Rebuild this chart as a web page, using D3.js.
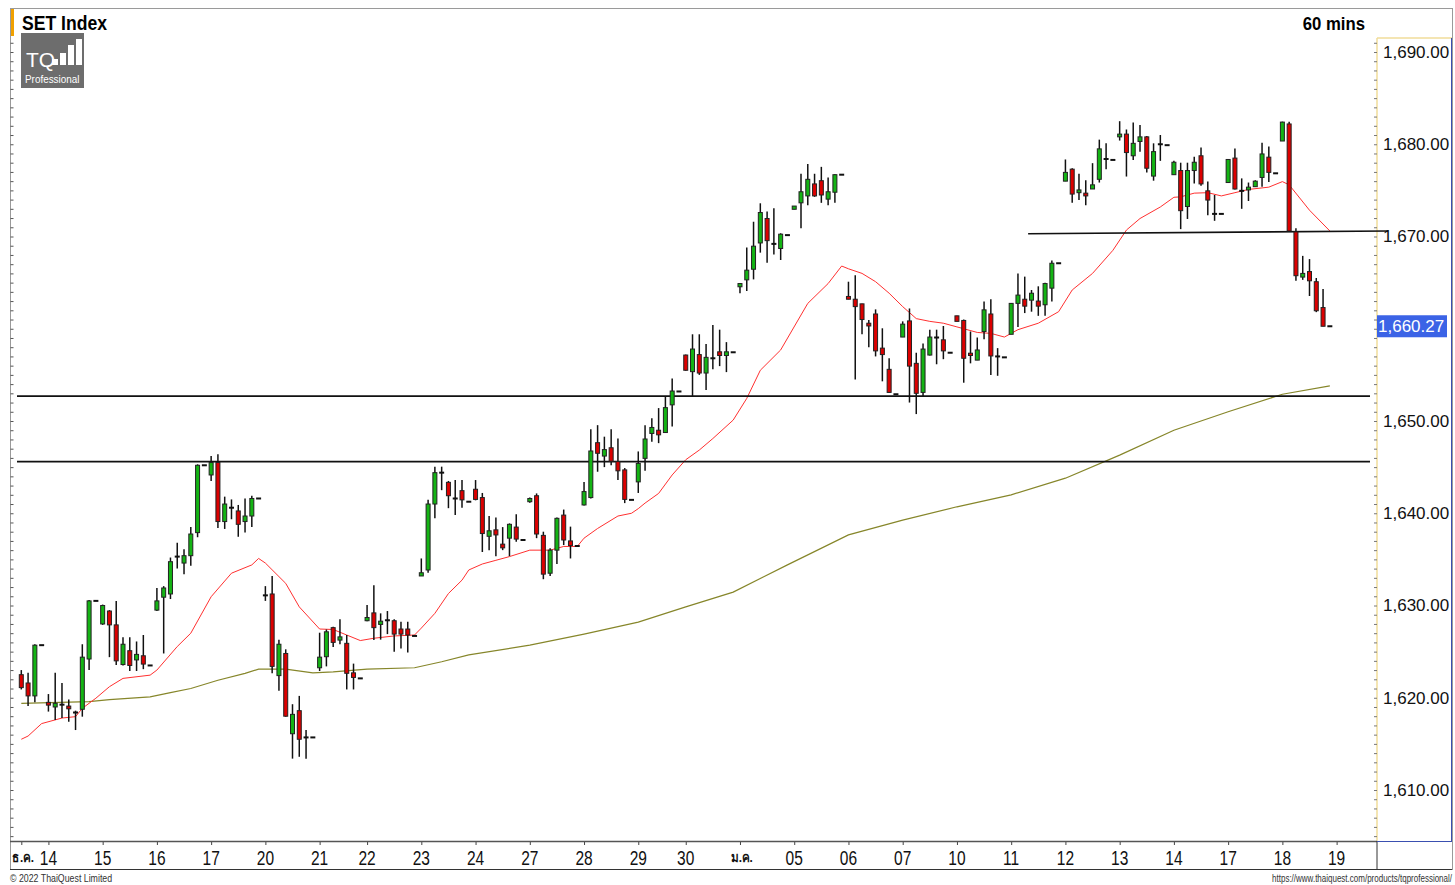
<!DOCTYPE html>
<html>
<head>
<meta charset="utf-8">
<style>
  body { margin: 0; background: #fff; }
  svg { display: block; }
  .chart { width: 1455px; height: 885px; }
</style>
</head>
<body>
<div class="chart"></div>
<script src="https://d3js.org/d3.v7.min.js"></script>
<script>
  // ---- 60 min bars, SET Index 13 Dec 2021 - 18 Jan 2022 (last bar of each day is the closing tick)
  const opens = [
    1622.5,1621.6,1620.2,1625.7,
    1619.5,1619.0,1619.25,1619.1,1618.4,1618.75,1624.2,1630.5,
    1628.0,1629.4,1627.9,1623.6,1625.1,1624.1,1624.55,1623.5,
    1629.5,1630.9,1631.25,1635.3,1634.6,1635.4,1637.9,1645.2,
    1644.15,1645.5,1639.1,1640.6,1640.25,1639.1,1639.7,1641.6,
    1631.1,1631.25,1622.4,1624.8,1616.1,1618.6,1615.7,1615.7,
    1623.25,1624.45,1627.6,1626.25,1625.9,1622.7,1622.1,
    1628.35,1629.2,1627.95,1628.4,1628.35,1627.45,1627.45,1626.7,
    1633.2,1633.85,1641.0,1644.4,1643.35,1641.6,1642.45,1641.25,
    1642.6,1641.7,1637.5,1638.2,1636.65,1637.3,1638.5,1637.1,
    1641.25,1641.9,1637.6,1633.5,1636.0,1639.8,1637.0,1636.45,
    1640.9,1641.7,1647.65,1646.2,1647.1,1645.6,1644.7,1641.45,
    1643.4,1645.95,1648.65,1649.0,1648.75,1651.75,1653.2,
    1657.15,1655.35,1657.2,1655.2,1656.8,1657.5,1657.1,1657.45,
    1664.55,1665.3,1666.45,1669.3,1671.95,1669.2,1668.7,1670.15,
    1672.95,1673.65,1674.4,1675.7,1676.05,1674.05,1674.8,1676.7,
    1663.5,1663.2,1662.7,1660.6,1661.6,1657.9,1655.6,1652.9,
    1659.1,1660.85,1656.25,1653.1,1657.15,1659.05,1658.8,1657.4,
    1661.4,1660.9,1657.35,1656.6,1659.7,1661.6,1657.0,1656.9,
    1659.4,1662.75,1663.2,1663.1,1663.0,1662.6,1664.4,1667.1,
    1676.0,1677.3,1674.75,1674.7,1675.15,1676.2,1678.4,1678.3,
    1680.8,1681.1,1678.75,1680.3,1680.8,1676.55,1680.0,1679.9,
    1676.7,1677.15,1673.25,1677.15,1678.75,1674.95,1672.45,1672.45,
    1675.85,1678.5,1674.95,1675.05,1675.4,1676.4,1678.6,1676.85,
    1680.35,1682.2,1670.5,1665.6,1666.2,1665.1,1662.3,1660.27
  ];
  const highs = [
    1623.0,1622.7,1625.8,1625.7,
    1620.4,1622.7,1621.6,1619.8,1618.6,1625.8,1630.6,1630.5,
    1630.1,1629.5,1630.5,1626.55,1626.55,1626.1,1626.8,1623.5,
    1631.9,1632.1,1635.2,1636.8,1636.1,1638.5,1645.3,1645.2,
    1646.2,1646.4,1641.8,1641.5,1640.9,1641.6,1641.9,1641.6,
    1632.1,1633.2,1626.3,1625.25,1619.3,1620.2,1616.5,1615.7,
    1627.05,1627.4,1627.7,1628.5,1626.8,1623.7,1622.1,
    1630.05,1632.2,1629.15,1629.4,1628.5,1628.25,1628.25,1626.7,
    1635.1,1641.45,1645.05,1645.05,1643.5,1643.6,1643.6,1641.25,
    1643.6,1642.2,1639.7,1639.55,1638.5,1638.9,1639.9,1637.1,
    1641.7,1642.15,1638.0,1636.2,1639.55,1640.4,1638.55,1636.45,
    1643.4,1649.1,1649.55,1648.3,1649.1,1648.1,1644.9,1641.45,
    1646.7,1649.55,1650.3,1651.4,1652.65,1654.6,1653.2,
    1657.2,1659.4,1659.4,1658.35,1660.4,1659.9,1658.55,1657.45,
    1664.95,1668.8,1671.6,1673.6,1672.7,1673.05,1670.35,1670.15,
    1673.3,1676.8,1677.85,1676.8,1677.55,1676.4,1676.75,1676.7,
    1665.1,1665.8,1662.7,1660.95,1662.1,1660.05,1656.8,1652.9,
    1660.8,1662.2,1657.4,1658.4,1659.9,1659.9,1660.3,1657.4,
    1661.4,1661.0,1659.7,1659.05,1662.95,1663.2,1657.9,1656.9,
    1662.8,1666.0,1665.65,1664.2,1664.6,1665.0,1667.4,1667.1,
    1678.35,1677.4,1676.8,1676.1,1677.95,1680.5,1680.1,1678.3,
    1682.5,1681.6,1682.35,1682.1,1680.9,1680.1,1681.0,1679.9,
    1678.2,1678.0,1678.0,1678.65,1679.65,1675.95,1674.5,1672.45,
    1678.4,1679.55,1676.3,1675.85,1676.1,1680.15,1679.75,1676.85,
    1682.45,1682.45,1670.9,1667.9,1667.55,1665.5,1664.3,1660.27
  ];
  const lows = [
    1620.9,1619.1,1619.5,1625.7,
    1618.5,1617.6,1617.8,1617.4,1616.5,1617.95,1623.0,1630.5,
    1627.9,1624.4,1623.55,1623.5,1622.9,1622.9,1623.1,1623.5,
    1629.4,1624.8,1630.7,1634.0,1633.4,1634.3,1637.4,1645.2,
    1643.5,1638.4,1638.3,1639.35,1637.45,1637.9,1638.5,1641.6,
    1630.5,1622.65,1620.75,1617.95,1613.4,1613.6,1613.4,1615.7,
    1622.9,1623.4,1625.5,1625.8,1620.9,1620.9,1622.1,
    1628.3,1626.25,1626.3,1626.9,1625.0,1625.35,1624.9,1626.7,
    1633.2,1633.55,1639.45,1642.5,1640.55,1639.8,1640.6,1641.25,
    1641.4,1635.8,1636.0,1635.35,1636.0,1635.35,1636.9,1637.1,
    1641.15,1637.3,1632.85,1633.2,1634.5,1636.55,1635.1,1636.45,
    1640.85,1641.6,1644.5,1645.0,1645.2,1643.6,1641.1,1641.45,
    1642.2,1644.6,1647.75,1647.6,1648.7,1649.4,1653.2,
    1655.45,1652.7,1655.0,1653.35,1655.6,1655.95,1655.3,1657.45,
    1663.85,1664.1,1665.35,1668.25,1667.15,1668.05,1667.45,1670.15,
    1672.95,1670.9,1673.4,1674.3,1673.65,1673.4,1673.65,1676.7,
    1663.2,1654.5,1659.4,1658.0,1657.0,1654.3,1653.05,1652.9,
    1659.1,1652.0,1650.75,1652.7,1657.1,1656.15,1656.7,1657.4,
    1660.8,1654.15,1656.25,1656.6,1658.85,1655.0,1654.9,1656.9,
    1659.4,1660.2,1661.7,1661.85,1661.4,1661.4,1662.95,1667.1,
    1676.0,1673.65,1673.95,1673.4,1675.15,1675.85,1677.3,1678.3,
    1680.4,1676.5,1678.3,1679.2,1676.95,1676.05,1678.2,1679.9,
    1676.7,1670.8,1671.9,1675.75,1675.5,1672.3,1671.7,1672.45,
    1675.8,1675.1,1673.0,1673.85,1675.4,1675.4,1675.9,1676.85,
    1680.35,1670.6,1665.2,1665.3,1663.55,1661.8,1660.27,1660.27
  ];
  const closes = [
    1621.1,1620.2,1625.7,1625.7,
    1619.2,1619.4,1619.25,1618.8,1618.4,1624.4,1630.5,1630.5,
    1630.0,1627.9,1624.0,1625.8,1623.5,1624.7,1623.65,1623.5,
    1630.5,1631.9,1634.75,1635.3,1635.4,1637.75,1645.2,1645.2,
    1645.5,1639.1,1641.0,1640.6,1638.8,1639.7,1641.6,1641.6,
    1631.1,1623.4,1625.8,1618.0,1618.2,1615.5,1615.7,1615.7,
    1624.4,1627.15,1626.0,1626.6,1622.65,1622.2,1622.1,
    1628.7,1627.6,1628.3,1628.4,1626.9,1626.9,1626.8,1626.7,
    1633.55,1641.0,1644.4,1644.4,1641.9,1641.6,1641.45,1641.25,
    1641.5,1637.8,1638.1,1637.65,1636.25,1638.8,1637.2,1637.1,
    1641.6,1637.75,1633.4,1636.0,1639.45,1637.1,1636.5,1636.45,
    1642.35,1646.75,1646.5,1646.9,1645.65,1644.6,1641.5,1641.45,
    1645.4,1648.05,1649.3,1648.5,1651.45,1653.25,1653.2,
    1655.5,1657.8,1655.2,1656.9,1656.8,1657.1,1657.5,1657.45,
    1664.9,1666.35,1668.95,1672.6,1669.55,1669.2,1670.25,1670.15,
    1673.3,1674.85,1676.2,1674.4,1674.5,1674.85,1676.7,1676.7,
    1663.2,1662.4,1661.0,1660.3,1657.6,1657.2,1653.1,1652.9,
    1660.5,1655.95,1653.0,1657.8,1659.1,1659.05,1657.6,1657.4,
    1660.8,1656.8,1657.1,1657.7,1662.05,1657.05,1657.0,1656.9,
    1662.75,1663.65,1662.45,1663.85,1662.45,1664.9,1667.1,1667.1,
    1676.95,1674.6,1675.05,1674.4,1675.6,1679.5,1678.4,1678.3,
    1681.1,1679.1,1680.1,1680.8,1677.4,1679.2,1680.0,1679.9,
    1678.05,1672.8,1677.15,1678.05,1675.7,1673.95,1672.45,1672.45,
    1678.35,1675.15,1674.95,1675.35,1676.0,1678.95,1676.95,1676.85,
    1682.4,1670.6,1665.75,1666.0,1665.2,1661.95,1660.27,1660.27
  ];

  // x-axis: bar index where each day starts, and its label
  const dayStart = [0,4,12,20,28,36,44,51,59,67,75,83,91,98,106,114,122,130,138,146,154,162,170,178,186,194];
  const dayLabel = ['ธ.ค.','14','15','16','17','20','21','22','23','24','27','28','29','30',
                    'ม.ค.','05','06','07','10','11','12','13','14','17','18','19'];

  // short moving average (red): bar index / value
  const maFastIdx = [0,1,3,6,8,9,11,13,15,19,20,23,25,28,31,34,35,36,39,41,44,46,48,50,52,55,58,59,61,63,65,66,68,70,72,75,78,80,82,83,85,88,90,91,92,94,96,98,100,102,105,107,109,112,116,119,121,122,124,126,128,130,132,134,136,138,141,143,145,147,150,153,155,158,161,163,165,168,170,171,173,175,177,179,181,184,186,187,190,193];
  const maFastVal = [1615.5,1615.85,1617.2,1617.8,1617.95,1618.85,1619.95,1621.2,1622.1,1622.45,1623.0,1625.55,1627.0,1630.95,1633.5,1634.4,1635.1,1634.6,1632.4,1629.85,1627.45,1627.4,1626.8,1626.2,1626.45,1626.7,1626.8,1627.55,1629.15,1631.3,1632.75,1633.85,1634.5,1634.9,1635.3,1636.0,1636.0,1636.4,1636.4,1637.3,1638.35,1639.7,1640.0,1640.5,1641.1,1642.15,1644.15,1645.8,1646.85,1648.1,1650.1,1652.45,1655.5,1657.7,1662.75,1664.9,1666.8,1666.5,1666.0,1665.1,1663.85,1662.4,1661.1,1660.8,1660.6,1660.2,1659.6,1659.5,1659.1,1659.9,1660.6,1661.85,1664.2,1666.0,1668.5,1670.7,1671.95,1673.2,1674.25,1674.3,1674.7,1674.75,1674.4,1674.75,1675.1,1675.35,1675.95,1675.6,1672.85,1670.6];

  // long moving average (olive)
  const maSlowIdx = [0,10,13,19,22,25,29,33,35,39,43,46,51,58,62,66,75,83,91,98,105,113,122,130,138,146,154,162,170,178,186,193];
  const maSlowVal = [1619.4,1619.57,1619.8,1620.1,1620.55,1621.0,1621.9,1622.65,1623.1,1623.1,1622.7,1622.8,1623.1,1623.25,1623.9,1624.65,1625.7,1626.9,1628.2,1629.85,1631.45,1634.4,1637.65,1639.25,1640.7,1642.0,1643.8,1646.3,1649.0,1651.0,1652.9,1653.8];

  // drawn levels
  const levels = [1652.7, 1645.6];
  const trend = { from: [148.5, 1670.3], to: [201.6, 1670.6] };
  const priceTicks = [1610,1620,1630,1640,1650,1660,1670,1680,1690];
  const lastPrice = 1660.27;

  const W = 1455, H = 885;
  const green = '#14b414', red = '#dc0000';
  const narrow = 'Liberation Sans Narrow, Arial Narrow, Liberation Sans, Arial, sans-serif';
  const sans = 'Liberation Sans, Arial, sans-serif';

  const svg = d3.select('.chart').append('svg').attr('width', W).attr('height', H);

  const x = d3.scaleLinear().domain([0, 193]).range([21.3, 21.3 + 6.78 * 193]);
  const y = d3.scaleLinear().domain([1610, 1690]).range([790, 52]);
  const plotTop = 38, plotBottom = 841, plotLeft = 10, plotRight = 1377;

  // condensed text helper (narrow face is not always installed)
  function condensed(sel, px, py, str, size, sx, anchor, weight) {
    return sel.append('text')
      .attr('transform', `translate(${px},${py}) scale(${sx},1)`)
      .attr('text-anchor', anchor || 'start')
      .attr('font-family', sans).attr('font-size', size)
      .attr('font-weight', weight || 'normal').attr('fill', '#111')
      .text(str);
  }

  // outer frame
  svg.append('rect').attr('x', 10.5).attr('y', 8.5).attr('width', 1442).attr('height', 861)
     .attr('fill', 'none').attr('stroke', '#9a9a9a');
  svg.append('rect').attr('x', 11).attr('y', 9).attr('width', 3).attr('height', 27).attr('fill', '#f0a000');

  // left axis with fine ticks (one per point)
  const yFull = y.copy().domain([y.invert(plotTop), y.invert(plotBottom)]).range([plotTop, plotBottom]);
  const leftAxis = svg.append('g').attr('transform', `translate(${plotLeft + 0.5},0)`)
    .call(d3.axisRight(yFull).tickValues(d3.range(1605, 1692, 1)).tickSize(3).tickFormat(''));
  leftAxis.select('.domain').remove();
  leftAxis.selectAll('line').attr('stroke', '#555');

  // price axis panel
  const pa = svg.append('g');
  pa.append('line').attr('x1', plotRight).attr('x2', plotRight).attr('y1', plotTop).attr('y2', plotBottom)
    .attr('stroke', '#f0dc9a').attr('stroke-width', 1.5);
  pa.append('line').attr('x1', plotRight).attr('x2', 1452).attr('y1', plotTop).attr('y2', plotTop)
    .attr('stroke', '#f0dc9a').attr('stroke-width', 1.5);
  pa.append('line').attr('x1', 1451.5).attr('x2', 1451.5).attr('y1', plotTop).attr('y2', plotBottom)
    .attr('stroke', '#3a4fb0').attr('stroke-width', 1);
  const minor = svg.append('g').attr('transform', `translate(${plotRight},0)`)
    .call(d3.axisLeft(yFull).tickValues(d3.range(1605, 1692, 1)).tickSize(3).tickFormat(''));
  minor.select('.domain').remove();
  minor.selectAll('line').attr('stroke', '#777');

  // price labels; the one hidden under the last-price box is left out
  const rightAxis = svg.append('g').attr('transform', `translate(${plotRight},0)`)
    .call(d3.axisRight(y).tickValues(priceTicks.filter(v => Math.abs(y(v) - y(lastPrice)) > 14))
      .tickSize(0).tickPadding(6).tickFormat(d3.format(',.2f')));
  rightAxis.select('.domain').remove();
  rightAxis.selectAll('text').attr('font-family', sans).attr('font-size', 17).attr('fill', '#111');

  // last price marker
  svg.append('rect').attr('x', plotRight).attr('y', y(lastPrice) - 11).attr('width', 70).attr('height', 22)
    .attr('fill', '#3b63e6');
  svg.append('text').attr('x', plotRight + 1).attr('y', y(lastPrice)).attr('dy', '0.35em')
    .attr('font-family', sans).attr('font-size', 17).attr('fill', '#fff')
    .text(d3.format(',.2f')(lastPrice));

  // bottom axis
  const xa = svg.append('g').attr('transform', `translate(0,${plotBottom})`)
    .call(d3.axisBottom(x).tickValues(dayStart).tickSize(4).tickFormat(''));
  xa.select('.domain').remove();
  xa.selectAll('line').attr('stroke', '#444');
  dayStart.forEach((d, i) => {
    const isMonth = dayLabel[i].includes('.');
    condensed(svg, x(d) + (isMonth ? 2 : 0), isMonth ? 862 : 865, dayLabel[i],
              isMonth ? 13 : 21, isMonth ? 0.9 : 0.74, 'middle', isMonth ? 'bold' : 'normal');
  });
  svg.append('line').attr('x1', plotLeft).attr('x2', plotRight).attr('y1', plotBottom + 0.5).attr('y2', plotBottom + 0.5)
    .attr('stroke', '#555').attr('stroke-width', 1.5);
  svg.append('line').attr('x1', plotLeft).attr('x2', 1452).attr('y1', 869.5).attr('y2', 869.5).attr('stroke', '#333');
  svg.append('line').attr('x1', plotRight).attr('x2', plotRight).attr('y1', plotBottom).attr('y2', 869).attr('stroke', '#333');
  svg.append('line').attr('x1', plotRight).attr('x2', 1452).attr('y1', plotBottom + 0.5).attr('y2', plotBottom + 0.5)
    .attr('stroke', '#3a4fb0');

  // moving averages
  const lineGen = d3.line().x(d => x(d[0])).y(d => y(d[1]));
  svg.append('path').datum(maSlowIdx.map((d, i) => [d, maSlowVal[i]]))
    .attr('d', lineGen).attr('fill', 'none').attr('stroke', '#86862a').attr('stroke-width', 1.2);
  svg.append('path').datum(maFastIdx.map((d, i) => [d, maFastVal[i]]))
    .attr('d', lineGen).attr('fill', 'none').attr('stroke', '#ff3030').attr('stroke-width', 1);

  // horizontal levels and trend line
  svg.selectAll('.level').data(levels).join('line').attr('class', 'level')
    .attr('x1', 17).attr('x2', 1370).attr('y1', d => y(d)).attr('y2', d => y(d))
    .attr('stroke', '#111').attr('stroke-width', 1.6);
  svg.append('line')
    .attr('x1', x(trend.from[0])).attr('y1', y(trend.from[1]))
    .attr('x2', x(trend.to[0])).attr('y2', y(trend.to[1]))
    .attr('stroke', '#111').attr('stroke-width', 1.6);

  // candles
  const bars = opens.map((o, i) => ({ i, o, h: highs[i], l: lows[i], c: closes[i] }));
  const cg = svg.append('g');
  cg.selectAll('.wick').data(bars.filter(d => d.h > d.l)).join('line').attr('class', 'wick')
    .attr('x1', d => x(d.i)).attr('x2', d => x(d.i))
    .attr('y1', d => y(d.h)).attr('y2', d => y(d.l))
    .attr('stroke', '#111').attr('stroke-width', 1.5);
  cg.selectAll('.body').data(bars.filter(d => d.o !== d.c)).join('rect').attr('class', 'body')
    .attr('x', d => x(d.i) - 2)
    .attr('width', 4)
    .attr('y', d => y(Math.max(d.o, d.c)))
    .attr('height', d => Math.max(1, y(Math.min(d.o, d.c)) - y(Math.max(d.o, d.c))))
    .attr('fill', d => d.c > d.o ? green : red)
    .attr('stroke', '#222').attr('stroke-width', 1);
  cg.selectAll('.flat').data(bars.filter(d => d.o === d.c)).join('line').attr('class', 'flat')
    .attr('x1', d => x(d.i) - 2.5).attr('x2', d => x(d.i) + 2.5)
    .attr('y1', d => y(d.c)).attr('y2', d => y(d.c))
    .attr('stroke', '#111').attr('stroke-width', 2);

  // header
  condensed(svg, 22, 30, 'SET Index', 20, 0.88, 'start', 'bold').attr('fill', '#000');
  condensed(svg, 1365, 30, '60 mins', 19, 0.88, 'end', 'bold').attr('fill', '#000');

  // logo
  const logo = svg.append('g').attr('transform', 'translate(21,33)');
  logo.append('rect').attr('width', 63).attr('height', 55).attr('fill', '#6d6d6d');
  logo.append('text').attr('x', 5).attr('y', 34).text('TQ').attr('fill', '#fff')
    .attr('font-family', sans).attr('font-size', 21);
  logo.selectAll('.lb').data([[31, 26, 6], [39, 20, 12], [47, 12, 20], [55, 6, 26]]).join('rect')
    .attr('x', d => d[0]).attr('y', d => d[1]).attr('width', 6).attr('height', d => d[2]).attr('fill', '#fff');
  condensed(logo, 4, 50, 'Professional', 11, 0.9, 'start').attr('fill', '#fff');

  // footer
  condensed(svg, 10, 882, '© 2022 ThaiQuest Limited', 11, 0.8, 'start').attr('fill', '#333');
  condensed(svg, 1452, 882, 'https://www.thaiquest.com/products/tqprofessional/', 10, 0.8, 'end').attr('fill', '#333');
</script>
</body>
</html>
